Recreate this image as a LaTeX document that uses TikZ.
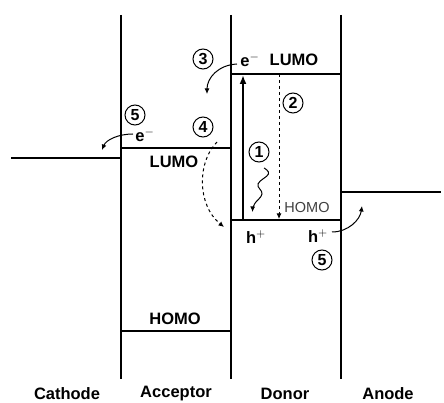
\documentclass[tikz,border=0pt]{standalone}
\usepackage{fontspec}
\setmainfont{Liberation Sans}
\usetikzlibrary{arrows.meta}
\begin{document}
\begin{tikzpicture}[x=1pt,y=-1pt,
  wall/.style={line width=2.4pt},
  level/.style={line width=2.4pt},
  thin arrow/.style={line width=1pt,-{Latex[length=5.5pt,width=5pt]}},
  lbl/.style={font=\fontsize{16.5}{18}\selectfont\bfseries,inner sep=0pt},
  small/.style={font=\fontsize{14.5}{16}\selectfont,text=black!75,inner sep=0pt},
  num/.style={circle,draw,line width=1pt,minimum size=20pt,inner sep=0pt,font=\fontsize{16}{18}\selectfont\bfseries}]
\useasboundingbox (0,0) rectangle (444,403);
% walls
\foreach \n/\x in {a/121,b/231,c/341}{
  \coordinate (\n top) at (\x,15);
  \coordinate (\n bot) at (\x,379);
  \draw[wall] (\n top) -- (\n bot);
}
% levels
\coordinate (cathL) at (11,158);  \coordinate (cathR) at (121,158);
\coordinate (aLl) at (121,148);   \coordinate (aLr) at (231,148);
\coordinate (aHl) at (121,331);   \coordinate (aHr) at (231,331);
\coordinate (dLl) at (231,74);    \coordinate (dLr) at (341,74);
\coordinate (dHl) at (231,220);   \coordinate (dHr) at (341,220);
\coordinate (anL) at (341,192);   \coordinate (anR) at (441,192);
\draw[level] (cathL) -- (cathR);
\draw[level] (aLl) -- (aLr);
\draw[level] (aHl) -- (aHr);
\draw[level] (dLl) -- (dLr);
\draw[level] (dHl) -- (dHr);
\draw[level] (anL) -- (anR);
% excitation arrow
\coordinate (exB) at (243,220);
\coordinate (exT) at (243,75);
\draw[line width=2.4pt,-{Latex[length=9pt,width=7pt]}] (exB) -- (exT);
% dashed relaxation
\coordinate (dsT) at (279,74);
\coordinate (dsB) at (279,219);
\draw[dashed,line width=0.9pt,-{Latex[length=5.5pt,width=5pt]}] (dsT) -- (dsB);
% labels
\node[lbl] (eD) at (250,60) {e$^{-}$};
\node[lbl] (lumoD) at (294,60) {LUMO};
\node[lbl] (eA) at (145,135) {e$^{-}$};
\node[lbl] (lumoA) at (174,162) {LUMO};
\node[lbl] (homoA) at (175,319) {HOMO};
\node[small] (homoD) at (307,208) {HOMO};
\node[lbl] (h1) at (256,237) {h$^{+}$};
\node[lbl] (h2) at (318,236) {h$^{+}$};
% numbers
\node[num] (n3) at (203,59) {3};
\node[num] (n4) at (203,127) {4};
\node[num] (n5a) at (135,115) {5};
\node[num] (n1) at (259,152) {1};
\node[num] (n2) at (293,103) {2};
\node[num] (n5b) at (322,260) {5};
% bottom labels
\node[lbl] (cath) at (67,394) {Cathode};
\node[lbl] (acc) at (176,394) {Acceptor};
\node[lbl] (don) at (285,394) {Donor};
\node[lbl] (ano) at (388,394) {Anode};
% curved arrows
\coordinate (a3s) at (237,64);  \coordinate (a3e) at (207,94);
\draw[thin arrow] (a3s) .. controls (218,65) and (207,78) .. (a3e);
\coordinate (a5s) at (133,134); \coordinate (a5e) at (102,150);
\draw[thin arrow] (a5s) .. controls (118,134) and (106,140) .. (a5e);
\coordinate (a4s) at (217,142); \coordinate (a4e) at (224,227);
\draw[thin arrow,dashed] (a4s) .. controls (197,162) and (197,205) .. (a4e);
\coordinate (a6s) at (332,232); \coordinate (a6e) at (362,206);
\draw[thin arrow] (a6s) .. controls (348,232) and (360,220) .. (a6e);
% wavy arrow
\draw[line width=1pt,-{Latex[length=5.5pt,width=5pt]}]
  plot[smooth,tension=0.7] coordinates {(264,168) (268.5,174) (258,184) (262,194) (254.5,204) (252.5,212)};
\end{tikzpicture}
\end{document}
